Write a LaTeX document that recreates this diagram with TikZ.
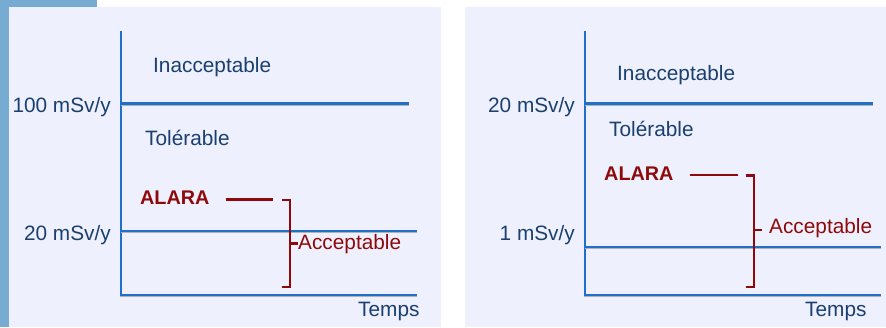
\documentclass[tikz,border=0pt]{standalone}
\usepackage{fontspec}
\setmainfont{Liberation Sans}
\definecolor{axisblue}{HTML}{1E70C8}
\definecolor{labelblue}{HTML}{1A3F70}
\definecolor{alarared}{HTML}{8E0A0A}
\definecolor{panelbg}{HTML}{EEF1FD}
\definecolor{stripblue}{HTML}{78ABD1}
\tikzset{
  level/.style={line width=2.7pt,draw=axisblue,
    preaction={draw=black!30,line width=1.2pt,transform canvas={yshift=-1.8pt}}},
  bracket/.style={line width=2.6pt,draw=alarared},
  lbl/.style={inner sep=0pt,text=labelblue,font=\fontsize{20.8}{24}\selectfont},
  redlbl/.style={inner sep=0pt,text=alarared,font=\fontsize{20.8}{24}\selectfont},
}
\begin{document}
\begin{tikzpicture}[x=1pt,y=-1pt]
\useasboundingbox (0,0) rectangle (886,327);

        % panels
        \fill[panelbg] (9,7) rectangle (441,327);
        \fill[panelbg] (465,7) rectangle (886,327);
        \fill[stripblue] (0,0) rectangle (9,327);
        \fill[stripblue] (0,0) rectangle (97,7);

        % left panel
        \coordinate (la-top) at (121,31);
        \coordinate (la-org) at (121,295);
        \coordinate (la-end) at (417,295);
        \coordinate (lhi-a) at (121,103.5);
        \coordinate (lhi-b) at (409,103.5);
        \coordinate (llo-a) at (121,231);
        \coordinate (llo-b) at (417,231);
        \draw[level] (la-top) -- (la-org) -- (la-end);
        \draw[level] (lhi-a) -- (lhi-b);
        \draw[level] (llo-a) -- (llo-b);

        \node[lbl,anchor=base west] (linacc) at (153,72) {Inacceptable};
        \node[lbl,anchor=base east] (lhi) at (111,112) {100 mSv/y};
        \node[lbl,anchor=base west] (ltol) at (145,145.5) {Tolérable};
        \node[redlbl,anchor=base west,font=\fontsize{19.8}{24}\selectfont\bfseries] (lalara) at (140,204.5) {ALARA};
        \node[lbl,anchor=base east] (llo) at (111,240.5) {20 mSv/y};
        \node[redlbl,anchor=base west] (lacc) at (298,249) {Acceptable};
        \node[lbl,anchor=base west] (ltemps) at (358,316.5) {Temps};

        \coordinate (ldash-a) at (226,199.5);
        \coordinate (ldash-b) at (273,199.5);
        \coordinate (lbr-top) at (282,200);
        \coordinate (lbr-bot) at (282,287);
        \coordinate (lbr-mid) at (290,243.5);
        \draw[bracket] (ldash-a) -- (ldash-b);
        \draw[bracket] (lbr-top) -- ++(8,0) |- (lbr-bot);
        \draw[bracket] (lbr-mid) -- (lacc.west |- lbr-mid);

        % right panel
        \coordinate (ra-top) at (585,31);
        \coordinate (ra-org) at (585,295);
        \coordinate (ra-end) at (881,295);
        \coordinate (rhi-a) at (585,103.5);
        \coordinate (rhi-b) at (873,103.5);
        \coordinate (rlo-a) at (585,247);
        \coordinate (rlo-b) at (881,247);
        \draw[level] (ra-top) -- (ra-org) -- (ra-end);
        \draw[level] (rhi-a) -- (rhi-b);
        \draw[level] (rlo-a) -- (rlo-b);

        \node[lbl,anchor=base west] (rinacc) at (617,80) {Inacceptable};
        \node[lbl,anchor=base east] (rhi) at (575,112) {20 mSv/y};
        \node[lbl,anchor=base west] (rtol) at (609,136) {Tolérable};
        \node[redlbl,anchor=base west,font=\fontsize{19.8}{24}\selectfont\bfseries] (ralara) at (604,180.5) {ALARA};
        \node[redlbl,anchor=base west] (racc) at (769,233.5) {Acceptable};
        \node[lbl,anchor=base east] (rlo) at (575,240.5) {1 mSv/y};
        \node[lbl,anchor=base west] (rtemps) at (805,316.5) {Temps};

        \coordinate (rdash-a) at (690,175);
        \coordinate (rdash-b) at (738,175);
        \coordinate (rbr-top) at (746,175.5);
        \coordinate (rbr-bot) at (746,287);
        \coordinate (rbr-mid) at (754,230);
        \draw[bracket] (rdash-a) -- (rdash-b);
        \draw[bracket] (rbr-top) -- ++(8,0) |- (rbr-bot);
        \draw[bracket] (rbr-mid) -- ++(8,0);

\end{tikzpicture}
\end{document}
